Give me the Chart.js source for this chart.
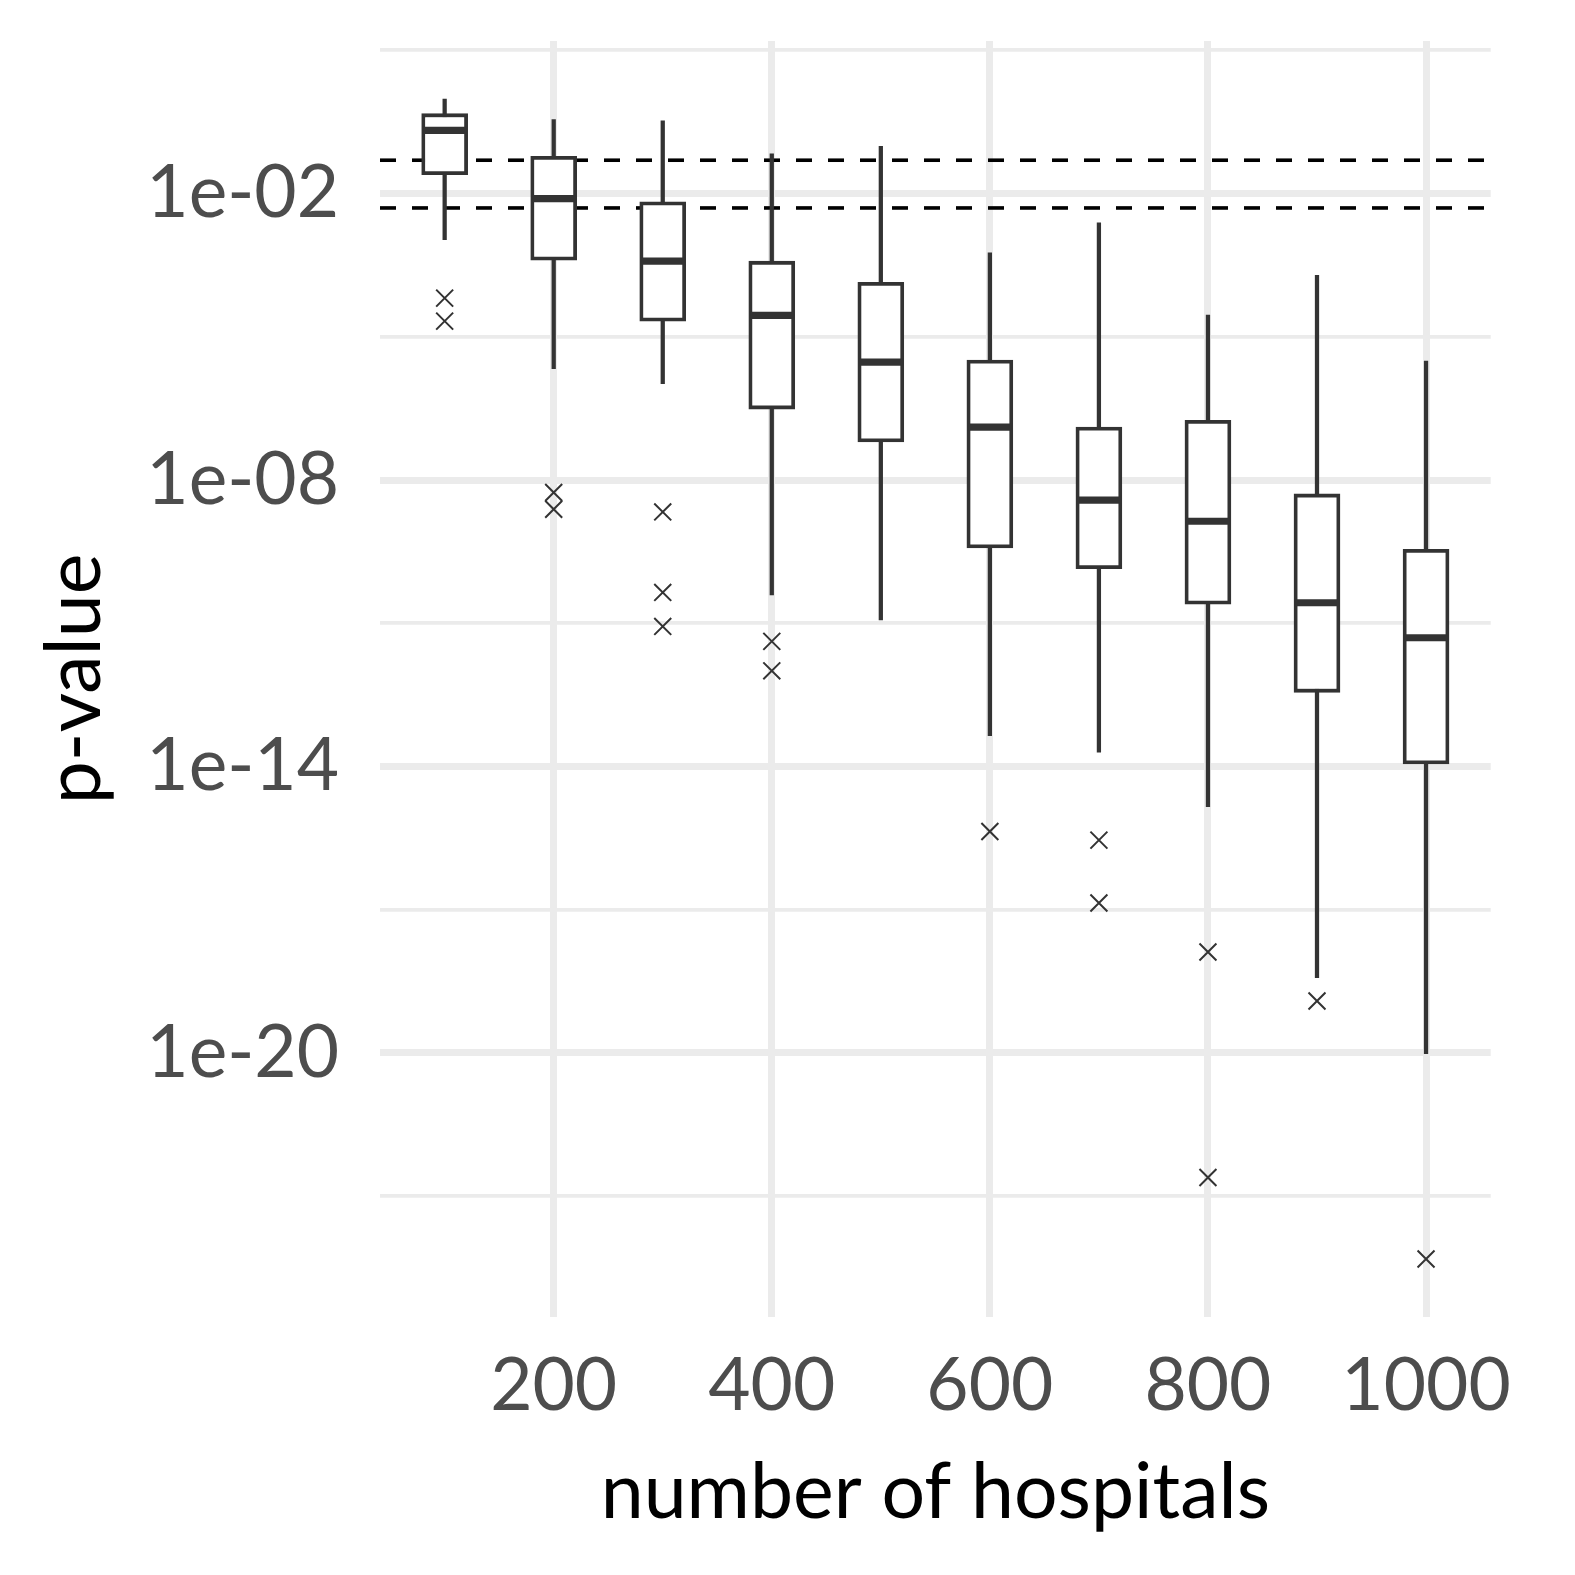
<!DOCTYPE html>
<html>
<head>
<meta charset="utf-8">
<script src="https://cdn.jsdelivr.net/npm/chart.js@4.4.1/dist/chart.umd.min.js"></script>
<style>
  html, body { margin: 0; padding: 0; background: #fff; }
  #wrap { width: 1575px; height: 1575px; }
</style>
</head>
<body>
<div id="wrap"><canvas id="boxplot" width="1575" height="1575"></canvas></div>
<script>
// box plot summaries, one entry per hospital count
const hospitals = [100, 200, 300, 400, 500, 600, 700, 800, 900, 1000];
const whiskerHigh = [0.957, 0.353, 0.336, 0.0678, 0.0977, 5.74e-4, 2.44e-3, 2.84e-5, 1.95e-4, 3.10e-6];
const upperQuartile = [0.472, 0.0603, 6.70e-3, 3.84e-4, 1.39e-4, 3.26e-6, 1.29e-7, 1.78e-7, 5.12e-9, 3.56e-10];
const medians = [0.211, 7.86e-3, 3.84e-4, 2.81e-5, 2.96e-6, 1.29e-7, 3.78e-9, 1.37e-9, 2.69e-11, 4.98e-12];
const lowerQuartile = [0.0249, 4.03e-4, 2.13e-5, 3.07e-7, 6.27e-8, 3.79e-10, 1.39e-10, 2.52e-11, 3.58e-13, 1.13e-14];
const whiskerLow = [1.09e-3, 2.15e-6, 1.04e-6, 3.94e-11, 1.17e-11, 4.43e-14, 1.99e-14, 1.45e-15, 3.78e-19, 9.7e-21];

const outlierHospitals = [100, 100, 200, 200, 300, 300, 300, 400, 400, 600, 700, 700, 800, 800, 900, 1000];
const outlierPValues = [6.46e-5, 2.13e-5, 5.47e-9, 2.45e-9, 2.15e-9, 4.43e-11, 8.6e-12, 4.18e-12, 1.01e-12,
  4.35e-16, 2.87e-16, 1.38e-17, 1.30e-18, 2.47e-23, 1.23e-19, 4.83e-25];

// significance thresholds (dashed lines)
const thresholds = [0.05, 0.005];

const xTicks = [200, 400, 600, 800, 1000];
const yMajorTicks = [1e-2, 1e-8, 1e-14, 1e-20];
const yMinorTicks = [1e1, 1e-5, 1e-11, 1e-17, 1e-23];
const xLimits = [40.7, 1059.3];
const yLimits = [Math.pow(10, -25.53), Math.pow(10, 1.196)];

const ink = '#333333';
const gridColor = '#EBEBEB';
const fontFamily = 'Lato';

function formatP(v) {
  const e = Math.round(Math.log10(v));
  return '1e' + (e < 0 ? '-' : '+') + String(Math.abs(e)).padStart(2, '0');
}

// drop the extra room chart.js keeps for edge labels
function noEdgePadding(s) {
  s.paddingTop = 0;
  s.paddingBottom = 0;
  s.paddingLeft = 0;
  s.paddingRight = 0;
}

const datasets = [];

thresholds.forEach(t => {
  datasets.push({
    type: 'line',
    data: [{ x: xLimits[0], y: t }, { x: xLimits[1], y: t }],
    borderColor: '#000000',
    borderWidth: 3.6,
    borderDash: [16, 16],
    pointRadius: 0,
    order: 6
  });
});

// whiskers
datasets.push({
  type: 'bar',
  data: hospitals.map((h, i) => ({ x: h, y: [whiskerLow[i], whiskerHigh[i]] })),
  backgroundColor: ink,
  borderWidth: 0,
  barThickness: 3.6,
  grouped: false,
  order: 5
});

// boxes
datasets.push({
  type: 'bar',
  data: hospitals.map((h, i) => ({ x: h, y: [lowerQuartile[i], upperQuartile[i]] })),
  backgroundColor: '#ffffff',
  borderColor: ink,
  borderWidth: 3.8,
  borderSkipped: false,
  barThickness: 46,
  grouped: false,
  order: 4
});

// medians
datasets.push({
  type: 'scatter',
  data: hospitals.map((h, i) => ({ x: h, y: medians[i] })),
  pointStyle: 'line',
  pointRadius: 21.5,
  pointBorderColor: ink,
  pointBorderWidth: 7.2,
  order: 1
});

// outliers
datasets.push({
  type: 'scatter',
  data: outlierHospitals.map((h, i) => ({ x: h, y: outlierPValues[i] })),
  pointStyle: 'crossRot',
  pointRadius: 12,
  pointBorderColor: ink,
  pointBorderWidth: 2,
  order: 2
});

new Chart(document.getElementById('boxplot'), {
  type: 'bar',
  data: { datasets },
  options: {
    responsive: false,
    animation: false,
    devicePixelRatio: 1,
    layout: { padding: { top: 41, right: 84.3, left: 0, bottom: 0 } },
    plugins: {
      legend: { display: false },
      tooltip: { enabled: false }
    },
    scales: {
      x: {
        type: 'linear',
        min: xLimits[0],
        max: xLimits[1],
        offset: false,
        afterBuildTicks: s => { s.ticks = xTicks.map(v => ({ value: v })); },
        afterFit: s => { s.height = 258; noEdgePadding(s); },
        grid: { color: gridColor, lineWidth: 7, drawTicks: false, offset: false },
        border: { display: false },
        ticks: {
          callback: v => String(v),
          font: { family: fontFamily, size: 73 },
          color: '#4D4D4D',
          padding: 26,
          maxRotation: 0,
          autoSkip: false
        },
        title: {
          display: true,
          text: 'number of hospitals',
          font: { family: fontFamily, size: 77 },
          color: '#000000',
          padding: { top: 0, bottom: 36 }
        }
      },
      y: {
        type: 'logarithmic',
        min: yLimits[0],
        max: yLimits[1],
        afterBuildTicks: s => {
          s.ticks = yMinorTicks.concat(yMajorTicks).sort((a, b) => a - b).map(v => ({ value: v }));
        },
        afterFit: s => { s.width = 380; noEdgePadding(s); },
        grid: {
          color: gridColor,
          lineWidth: ctx => (ctx.tick && yMajorTicks.includes(ctx.tick.value)) ? 7 : 3.8,
          drawTicks: false
        },
        border: { display: false },
        ticks: {
          callback: v => yMajorTicks.includes(v) ? formatP(v) : '',
          font: { family: fontFamily, size: 73 },
          color: '#4D4D4D',
          padding: 41,
          autoSkip: false
        },
        title: {
          display: true,
          text: 'p-value',
          font: { family: fontFamily, size: 77 },
          color: '#000000',
          padding: { top: 29, bottom: 0 }
        }
      }
    }
  }
});
</script>
</body>
</html>
